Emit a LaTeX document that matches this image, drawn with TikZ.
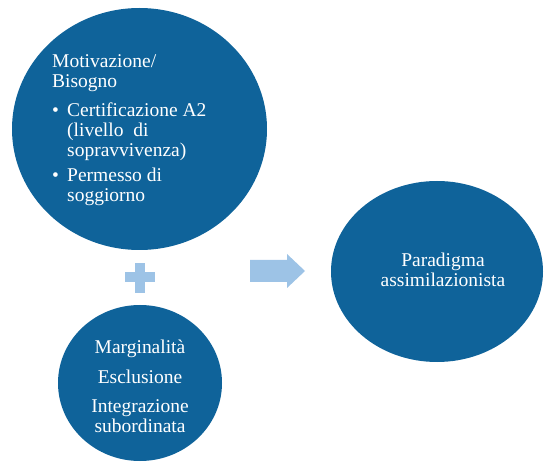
\documentclass[tikz,border=0pt]{standalone}
\usepackage{fontspec}
\setmainfont{Liberation Serif}
\usetikzlibrary{shapes.geometric}
\definecolor{darkblue}{HTML}{0F639A}
\definecolor{lightblue}{HTML}{9DC3E6}
\tikzset{
  blob/.style={ellipse, fill=darkblue, draw=none, inner sep=0pt},
  lbl/.style={text=white, font=\fontsize{19.5}{20}\selectfont, inner sep=0pt},
  deco/.style={fill=lightblue, draw=none}
}
\begin{document}
\begin{tikzpicture}[x=1pt,y=-1pt]
\useasboundingbox (0,0) rectangle (544,465);
% circles
\node[blob, minimum width=255pt, minimum height=242pt] (big) at (139.5,129) {};
\node[blob, minimum width=164pt, minimum height=156pt] (small) at (140,383) {};
\node[blob, minimum width=212pt, minimum height=181pt] (right) at (437,271.5) {};
% plus
\fill[deco] (135,263) rectangle (145,293);
\fill[deco] (125,272) rectangle (155,282);
% arrow
\fill[deco] (250,260) -- (287,260) -- (287,254) -- (305,271) -- (287,288) -- (287,282) -- (250,282) -- cycle;
% texts (base anchor = baseline of last line)
\node[lbl, anchor=base west, align=left] (bigtext) at (52,202)
  {Motivazione/\\Bisogno\\[9pt]
   \makebox[15pt][l]{\textbullet}Certificazione A2\\
   \hspace*{15pt}(livello\ \ di\\
   \hspace*{15pt}sopravvivenza)\\[5pt]
   \makebox[15pt][l]{\textbullet}Permesso di\\
   \hspace*{15pt}soggiorno};
\node[lbl, anchor=base, align=center] (smalltext) at (140,432)
  {Marginalità\\[10pt]Esclusione\\[9pt]Integrazione\\subordinata};
\node[lbl, anchor=base, align=center] (righttext) at (443,287)
  {Paradigma\\assimilazionista};
\end{tikzpicture}
\end{document}
